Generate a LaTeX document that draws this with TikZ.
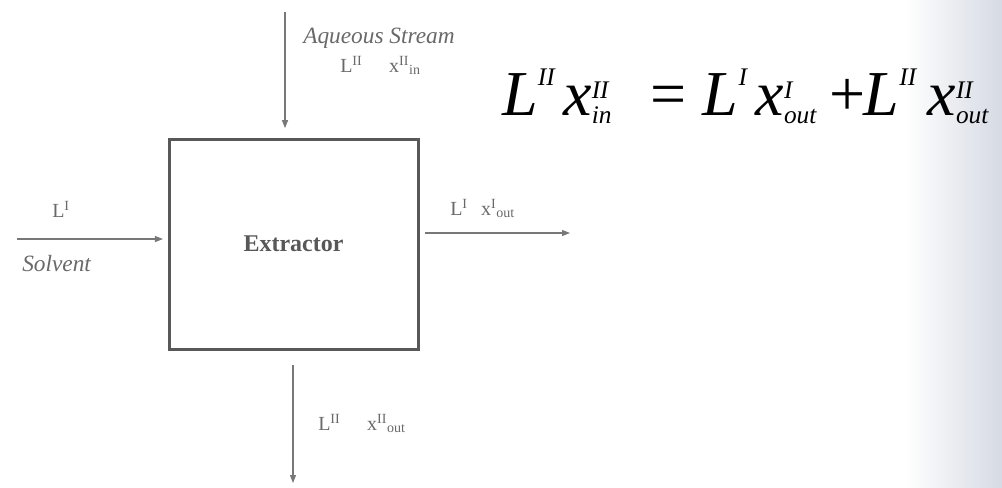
\documentclass[tikz,border=0pt]{standalone}
\usepackage{amsmath}
\usepackage{fontspec}
\setmainfont{Liberation Serif}
\usetikzlibrary{arrows.meta}
\definecolor{inkline}{RGB}{120,120,120}
\definecolor{inklabel}{RGB}{105,105,105}
\definecolor{inkbox}{RGB}{88,88,88}
\definecolor{scanedge}{RGB}{214,218,228}
\newcommand{\eqv}[1]{\text{\itshape #1}}
\newcommand{\eqs}[1]{\text{\fontsize{19}{19}\selectfont\itshape #1}}

\begin{document}
\begin{tikzpicture}[
      x=0.75pt,y=-0.75pt,
      unitbox/.style={draw=inkbox,line width=2.25pt,
        minimum width=186.75pt,minimum height=157.5pt,
        inner sep=0pt,text=inkbox,
        font=\fontsize{18}{20}\selectfont\bfseries},
      lbl/.style={anchor=base west,inner sep=0pt,text=inklabel,
        font=\fontsize{15}{17}\selectfont},
      stream/.style={anchor=base west,inner sep=0pt,text=inklabel,
        font=\fontsize{17.5}{20}\selectfont\itshape},
      balance/.style={anchor=base west,inner sep=0pt,
        font=\fontsize{48}{52}\selectfont},
      flow/.style={-{Triangle[length=6pt,width=4.5pt]},line width=0.8pt,inkline}
    ]
      \useasboundingbox (0,0) rectangle (1002,487);
      \clip (0,0) rectangle (1002,487);
      \shade[left color=white,right color=scanedge] (905,0) rectangle (1002,487);

      \node[unitbox](ext) at (293.5,244){Extractor};

      \coordinate (aqin) at (285,12);
      \coordinate (solin) at (17,239);
      \coordinate (solout) at (570,233);
      \coordinate (aqout) at (293,483);

      \node[stream](aqname) at (303,43){Aqueous Stream};
      \node[lbl](aqlbl) at (340,72){L\textsuperscript{II}\hspace{20pt}x\textsuperscript{II}\textsubscript{in}};
      \node[lbl](sollbl) at (52,217){L\textsuperscript{I}};
      \node[stream](solname) at (22,271){Solvent};
      \node[lbl](extlbl) at (450,215){L\textsuperscript{I}\hspace{10pt}x\textsuperscript{I}\textsubscript{out}};
      \node[lbl](raflbl) at (318,430){L\textsuperscript{II}\hspace{20pt}x\textsuperscript{II}\textsubscript{out}};

      \node[balance](eq) at (502,115){%
        $\eqv{L}^{\eqs{II}}\hspace{6pt}\eqv{x}^{\eqs{II}}_{\eqs{in}}$\hspace{29pt}=\hspace{12pt}%
        $\eqv{L}^{\eqs{I}}\hspace{6pt}\eqv{x}^{\eqs{I}}_{\eqs{out}}$\hspace{9pt}+\hspace{-1pt}%
        $\eqv{L}^{\eqs{II}}\hspace{8pt}\eqv{x}^{\eqs{II}}_{\eqs{out}}$};

      \draw[flow,shorten >=7pt](aqin)--(aqin |- ext.north);
      \draw[flow,shorten >=3.4pt](solin)--(solin -| ext.west);
      \draw[flow,shorten <=4pt](ext.east |- solout)--(solout);
      \draw[flow,shorten <=11pt](ext.south -| aqout)--(aqout);
    \end{tikzpicture}
\end{document}
